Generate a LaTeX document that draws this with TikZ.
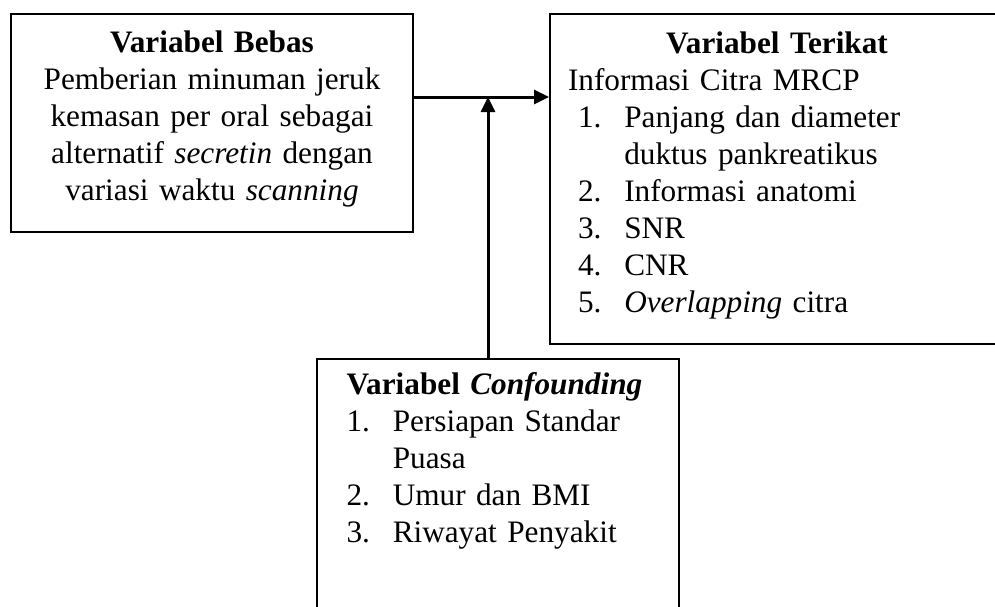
\documentclass[tikz,border=0pt]{standalone}
\usepackage{fontspec}
\setmainfont{Liberation Serif}
\usepackage{tikz}
\usetikzlibrary{arrows.meta,positioning}
\newcommand{\numitem}[3][4pt]{\hspace*{#1}\makebox[18.5pt][l]{#2}#3}
\newcommand{\contline}[2][4pt]{\hspace*{\dimexpr#1+18.5pt\relax}#2}
\tikzset{
  varbox/.style={draw=black, line width=0.8pt, fill=white, anchor=north west,
                 inner ysep=0pt, font=\fontsize{12.5}{14.8}\selectfont},
  arrow/.style={-{Triangle[length=6pt, width=5.6pt]}, line width=1.2pt, draw=black}
}

\begin{document}
\begin{tikzpicture}[x=0.4pt, y=-0.4pt, node distance=54pt]
  \useasboundingbox (0,0) rectangle (995,607);
  \node[varbox, text width=152.8pt, inner xsep=4pt, align=center,
        text height=15.5pt, text depth=71.7pt] (bebas) at (10,13)
    {\textbf{Variabel Bebas}\\ Pemberian minuman jeruk\\ kemasan per oral sebagai\\
     alternatif \textit{secretin} dengan\\ variasi waktu \textit{scanning}};
  \node[varbox, text width=167.2pt, inner xsep=7.2pt, align=left,
        text height=15.9pt, text depth=116.1pt,
        right=54pt of bebas.north east, anchor=north west] (terikat)
    {\makebox[\linewidth]{\textbf{Variabel Terikat}}\\ Informasi Citra MRCP\\
     \numitem{1.}{Panjang dan diameter}\\ \contline{duktus pankreatikus}\\
     \numitem{2.}{Informasi anatomi}\\ \numitem{3.}{SNR}\\ \numitem{4.}{CNR}\\
     \numitem{5.}{\textit{Overlapping} citra}};
  \node[varbox, text width=121.2pt, inner xsep=11.8pt, align=left,
        text height=14pt, text depth=110pt,
        below right=50pt and 122.4pt of bebas.south west, anchor=north west] (confound)
    {\textbf{Variabel \textit{Confounding}}\\
     \numitem[0pt]{1.}{Persiapan Standar}\\ \contline[0pt]{Puasa}\\
     \numitem[0pt]{2.}{Umur dan BMI}\\ \numitem[0pt]{3.}{Riwayat Penyakit}};
  \coordinate (meet) at (488,97);
  \draw[arrow] (bebas.east |- meet) -- (terikat.west |- meet);
  \draw[arrow] (confound.north -| meet) -- (meet);
\end{tikzpicture}
\end{document}
